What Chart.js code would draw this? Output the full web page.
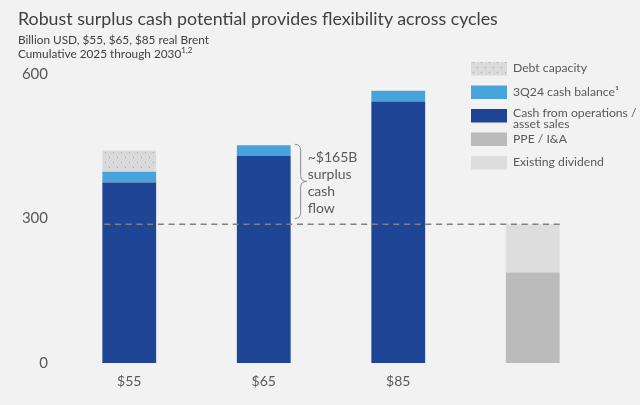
<!DOCTYPE html>
<html>
<head>
<meta charset="utf-8">
<script src="https://cdn.jsdelivr.net/npm/chart.js@4.4.1/dist/chart.umd.min.js"></script>
<style>
  html, body { margin: 0; padding: 0; background: #f2f2f2; }
  #wrap { position: relative; width: 640px; height: 405px; overflow: hidden; }
  #c { position: absolute; left: 0; top: 0; }
  .title { position: absolute; left: 18px; top: 8px; font: 17.8px Lato, sans-serif; line-height: 20px; color: #404040; white-space: nowrap; }
  .sub { position: absolute; left: 18px; top: 33px; font: 11.8px Lato, sans-serif; line-height: 14px; color: #404040; white-space: nowrap; }
  .sub sup { font-size: 8px; line-height: 0; vertical-align: 5px; }
</style>
</head>
<body>
<div id="wrap">
  <canvas id="c" width="640" height="405"></canvas>
  <div class="title">Robust surplus cash potential provides flexibility across cycles</div>
  <div class="sub">Billion USD, $55, $65, $85 real Brent<br>Cumulative 2025 through 2030<sup>1,2</sup></div>
</div>
<script>
'use strict';

// Data
const categories = ['$55', '$65', '$85', ''];
const cashFromOps = [375, 430, 543, null];
const cashBalance = [22, 22, 22, null];
const debtCapacity = [44, null, null, null];
const ppeIA = [null, null, null, 188];
const existingDividend = [null, null, null, 100];
const dividendLevel = 288;
const surplusFrom = 300;
const yTicks = [0, 300, 600];
const surplusNote = ['~$165B', 'surplus', 'cash', 'flow'];

// Legend text, top to bottom (dataset index, lines)
const legendItems = [
  [2, ['Debt capacity']],
  [1, ['3Q24 cash balance\u00b9']],
  [0, ['Cash from operations /', 'asset sales']],
  [3, ['PPE / I&A']],
  [4, ['Existing dividend']]
];

// Colors
const darkBlue = '#1f4596',
  lightBlue = '#48a2dc',
  greyColor = '#bbbbbb',
  greyLightColor = '#dddddd',
  labelColor = '#595959',
  dashColor = '#808080';

function dotPattern() {
  const p = document.createElement('canvas');
  p.width = 8;
  p.height = 10;
  const g = p.getContext('2d');
  g.fillStyle = '#dadada';
  g.fillRect(0, 0, 8, 10);
  g.fillStyle = '#9aa6c8';
  g.fillRect(1, 2, 1, 1);
  g.fillRect(5, 7, 1, 1);
  return g.createPattern(p, 'repeat');
}
const debtFill = dotPattern();

const overlay = {
  id: 'overlay',
  afterDatasetsDraw(chart) {
    const ctx = chart.ctx;
    const y = chart.scales.y;
    const bars0 = chart.getDatasetMeta(0).data;
    const bars3 = chart.getDatasetMeta(3).data;

    // dashed dividend line
    const yl = y.getPixelForValue(dividendLevel);
    ctx.save();
    ctx.strokeStyle = dashColor;
    ctx.lineWidth = 1.5;
    ctx.setLineDash([6, 4.7]);
    ctx.beginPath();
    ctx.moveTo(bars0[0].x - bars0[0].width / 2 + 2, yl);
    ctx.lineTo(bars3[3].x + bars3[3].width / 2, yl);
    ctx.stroke();
    ctx.restore();

    // brace next to $65 bar
    const b = bars0[1];
    const bx = b.x + b.width / 2 + 4;
    const top = y.getPixelForValue(cashFromOps[1] + cashBalance[1]) - 1;
    const bot = y.getPixelForValue(surplusFrom);
    const mid = (top + bot) / 2;
    const w = 6;
    ctx.save();
    ctx.strokeStyle = '#8c8c8c';
    ctx.lineWidth = 1;
    ctx.beginPath();
    ctx.moveTo(bx, top);
    ctx.quadraticCurveTo(bx + w, top, bx + w, top + 6);
    ctx.lineTo(bx + w, mid - 6);
    ctx.quadraticCurveTo(bx + w, mid, bx + 2 * w, mid);
    ctx.quadraticCurveTo(bx + w, mid, bx + w, mid + 6);
    ctx.lineTo(bx + w, bot - 6);
    ctx.quadraticCurveTo(bx + w, bot, bx, bot);
    ctx.stroke();

    ctx.fillStyle = labelColor;
    ctx.font = '14px Lato';
    ctx.textBaseline = 'alphabetic';
    ctx.textAlign = 'left';
    surplusNote.forEach(function (t, i) {
      ctx.fillText(t, bx + 2 * w + 1, top + 18 + i * 17);
    });
    ctx.restore();

    // legend
    ctx.save();
    ctx.font = '12.2px Lato';
    ctx.textBaseline = 'middle';
    let ly = 62;
    legendItems.forEach(function (item) {
      const ds = chart.data.datasets[item[0]];
      ctx.fillStyle = ds.backgroundColor;
      ctx.fillRect(471, ly, 36, 13.5);
      ctx.fillStyle = labelColor;
      item[1].forEach(function (line, k) {
        ctx.fillText(line, 513, ly + 4 + k * 11 + (item[1].length === 1 ? 2.5 : 0));
      });
      ly += 23.5;
    });
    ctx.restore();
  }
};

new Chart(document.getElementById('c'), {
  type: 'bar',
  data: {
    labels: categories,
    datasets: [
      { label: 'Cash from operations / asset sales', data: cashFromOps, backgroundColor: darkBlue },
      { label: '3Q24 cash balance', data: cashBalance, backgroundColor: lightBlue },
      { label: 'Debt capacity', data: debtCapacity, backgroundColor: debtFill },
      { label: 'PPE / I&A', data: ppeIA, backgroundColor: greyColor },
      { label: 'Existing dividend', data: existingDividend, backgroundColor: greyLightColor }
    ]
  },
  options: {
    responsive: false,
    animation: false,
    layout: { padding: { top: 74, right: 40, bottom: 12, left: 0 } },
    datasets: { bar: { barPercentage: 0.4, categoryPercentage: 1, borderWidth: 0 } },
    plugins: { legend: { display: false }, tooltip: { enabled: false } },
    scales: {
      x: {
        stacked: true,
        grid: { display: false, drawTicks: false },
        border: { display: false },
        ticks: { color: labelColor, padding: 10, font: { family: 'Lato', size: 14 } },
        afterFit: function (s) { s.height = 30; }
      },
      y: {
        stacked: true,
        min: 0,
        max: 600,
        grid: { display: false, drawTicks: false },
        border: { display: false },
        afterBuildTicks: function (s) { s.ticks = yTicks.map(function (v) { return { value: v }; }); },
        ticks: { color: labelColor, padding: 14, font: { family: 'Lato', size: 15 } },
        afterFit: function (s) { s.width = 62; }
      }
    }
  },
  plugins: [overlay]
});
</script>
</body>
</html>
